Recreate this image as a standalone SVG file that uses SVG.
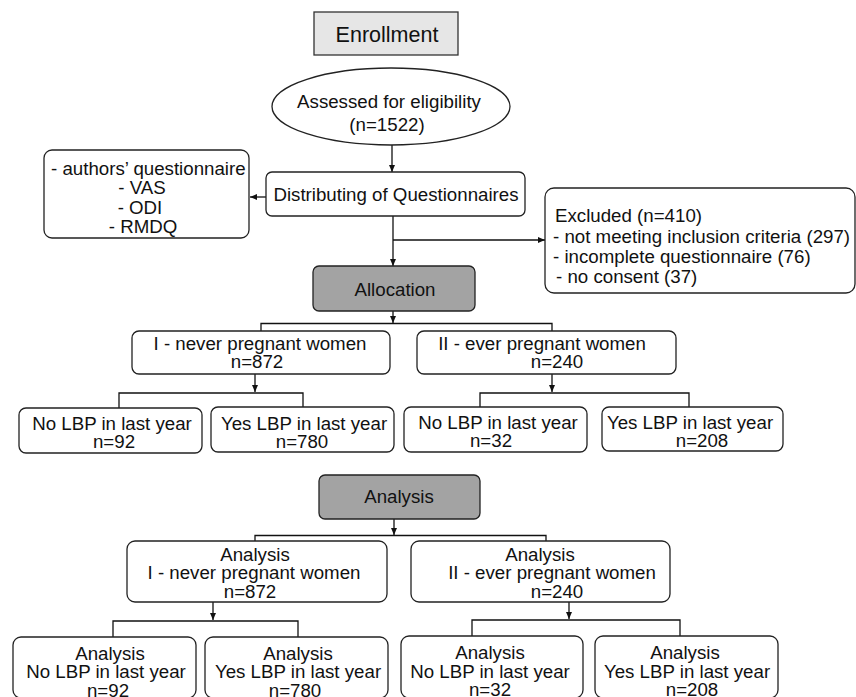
<svg xmlns="http://www.w3.org/2000/svg" width="856" height="697" viewBox="0 0 856 697">
<defs>
<marker id="ah" markerUnits="userSpaceOnUse" markerWidth="8" markerHeight="7" refX="7" refY="3" orient="auto">
<path d="M0,0 L7,3 L0,6 z" fill="#111"/>
</marker>
<style>
text{font-family:"Liberation Sans",Arial,sans-serif;font-size:18.7px;fill:#111}
.m{text-anchor:middle}
.box{fill:#fff;stroke:#222;stroke-width:1.3}
.dark{fill:#a3a3a3;stroke:#222;stroke-width:1.3}
.light{fill:#e6e6e6;stroke:#333;stroke-width:1.3}
.c{fill:none;stroke:#111;stroke-width:1.3}
</style>
</defs>
<rect width="856" height="697" fill="#fff"/>

<g id="connectors">
<line class="c" x1="392" y1="145" x2="392" y2="172" marker-end="url(#ah)"/>
<line class="c" x1="266" y1="197" x2="250" y2="197" marker-end="url(#ah)"/>
<line class="c" x1="393" y1="216" x2="393" y2="266" marker-end="url(#ah)"/>
<line class="c" x1="393" y1="240" x2="545" y2="240" marker-end="url(#ah)"/>
<line class="c" x1="393" y1="311" x2="393" y2="323" marker-end="url(#ah)"/>
<path class="c" d="M261,331 V323.5 H552 V331"/>
<line class="c" x1="255" y1="374" x2="255" y2="392" marker-end="url(#ah)"/>
<path class="c" d="M119,408 V393 H303 V407"/>
<line class="c" x1="552" y1="374" x2="552" y2="392" marker-end="url(#ah)"/>
<path class="c" d="M480,407 V393 H689 V407"/>
<line class="c" x1="394" y1="519" x2="394" y2="535" marker-end="url(#ah)"/>
<path class="c" d="M255,541 V535.5 H546 V541"/>
<line class="c" x1="213" y1="602" x2="213" y2="620" marker-end="url(#ah)"/>
<path class="c" d="M113,637 V621 H298 V637"/>
<line class="c" x1="569" y1="602" x2="569" y2="619" marker-end="url(#ah)"/>
<path class="c" d="M472,636 V620 H680 V636"/>
</g>

<g id="enrollment">
<rect class="light" x="314" y="12" width="144" height="43"/>
<text class="m" x="387" y="42" style="font-size:21.5px">Enrollment</text>
</g>

<g id="assessed">
<ellipse class="box" cx="391" cy="106.5" rx="119" ry="38.5"/>
<text class="m" x="389" y="108">Assessed for eligibility</text>
<text class="m" x="387" y="131">(n=1522)</text>
</g>

<g id="questionnaires">
<rect class="box" x="44" y="150" width="205" height="88" rx="8"/>
<text x="51" y="174.5">- authors’ questionnaire</text>
<text class="m" x="142" y="194">- VAS</text>
<text class="m" x="140" y="213.5">- ODI</text>
<text class="m" x="143" y="233">- RMDQ</text>
</g>

<g id="distributing">
<rect class="box" x="266" y="172" width="259" height="44" rx="6"/>
<text class="m" x="396" y="201">Distributing of Questionnaires</text>
</g>

<g id="excluded">
<rect class="box" x="545" y="188" width="310" height="105" rx="9"/>
<text x="555" y="222">Excluded (n=410)</text>
<text x="553" y="242.5">- not meeting inclusion criteria (297)</text>
<text x="553" y="262.5">- incomplete questionnaire (76)</text>
<text x="556" y="282.5">- no consent (37)</text>
</g>

<g id="allocation">
<rect class="dark" x="313" y="266" width="162" height="45" rx="6"/>
<text class="m" x="395" y="296">Allocation</text>
</g>

<g id="group1">
<rect class="box" x="132" y="331" width="258" height="43" rx="7"/>
<text class="m" x="260" y="350">I - never pregnant women</text>
<text class="m" x="257" y="368">n=872</text>
</g>

<g id="group2">
<rect class="box" x="417" y="331" width="259" height="43" rx="7"/>
<text class="m" x="542" y="350">II - ever pregnant women</text>
<text class="m" x="557" y="368">n=240</text>
</g>

<g id="g1-no">
<rect class="box" x="19" y="408" width="183" height="45" rx="7"/>
<text class="m" x="112" y="430">No LBP in last year</text>
<text class="m" x="114" y="448">n=92</text>
</g>

<g id="g1-yes">
<rect class="box" x="211" y="407" width="183" height="45" rx="7"/>
<text class="m" x="304" y="429.5">Yes LBP in last year</text>
<text class="m" x="302" y="447.5">n=780</text>
</g>

<g id="g2-no">
<rect class="box" x="404" y="407" width="183" height="45" rx="7"/>
<text class="m" x="498" y="429">No LBP in last year</text>
<text class="m" x="491" y="447">n=32</text>
</g>

<g id="g2-yes">
<rect class="box" x="602" y="407" width="181" height="44" rx="7"/>
<text class="m" x="690" y="429">Yes LBP in last year</text>
<text class="m" x="702" y="447">n=208</text>
</g>

<g id="analysis">
<rect class="dark" x="319" y="475" width="161" height="44" rx="6"/>
<text class="m" x="399" y="503">Analysis</text>
</g>

<g id="a-group1">
<rect class="box" x="127" y="541" width="260" height="61" rx="8"/>
<text class="m" x="255" y="560.5">Analysis</text>
<text class="m" x="254" y="579">I - never pregnant women</text>
<text class="m" x="250" y="597.5">n=872</text>
</g>

<g id="a-group2">
<rect class="box" x="411" y="541" width="259" height="61" rx="8"/>
<text class="m" x="540" y="560.5">Analysis</text>
<text class="m" x="552" y="579">II - ever pregnant women</text>
<text class="m" x="557" y="597.5">n=240</text>
</g>

<g id="a-g1-no">
<rect class="box" x="13" y="637" width="183" height="61" rx="8"/>
<text class="m" x="110" y="659.5">Analysis</text>
<text class="m" x="106" y="678">No LBP in last year</text>
<text class="m" x="108" y="696.5">n=92</text>
</g>

<g id="a-g1-yes">
<rect class="box" x="205" y="637" width="183" height="61" rx="8"/>
<text class="m" x="298" y="659.5">Analysis</text>
<text class="m" x="298" y="678">Yes LBP in last year</text>
<text class="m" x="295" y="696.5">n=780</text>
</g>

<g id="a-g2-no">
<rect class="box" x="401" y="636" width="182" height="62" rx="8"/>
<text class="m" x="490" y="659">Analysis</text>
<text class="m" x="490" y="677.5">No LBP in last year</text>
<text class="m" x="490" y="696">n=32</text>
</g>

<g id="a-g2-yes">
<rect class="box" x="595" y="636" width="183" height="62" rx="8"/>
<text class="m" x="685" y="659">Analysis</text>
<text class="m" x="687" y="677.5">Yes LBP in last year</text>
<text class="m" x="692" y="696">n=208</text>
</g>
</svg>
